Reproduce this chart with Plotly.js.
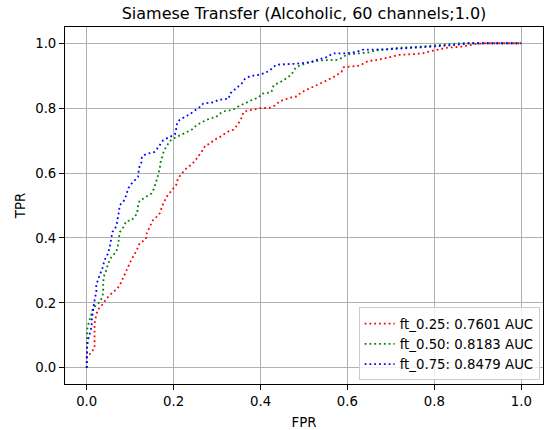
<!DOCTYPE html>
<html>
<head>
<meta charset="utf-8">
<script src="https://cdn.plot.ly/plotly-3.0.1.min.js"></script>
<style>html,body{margin:0;padding:0;background:#fff;}#chart{width:551px;height:430px;}</style>
</head>
<body>
<div id="chart"></div>
<script>
const fpr_25 = [0, 0, 0.007, 0.018, 0.018, 0.018, 0.018, 0.021, 0.025, 0.035, 0.046, 0.058, 0.069, 0.076, 0.083, 0.092, 0.099, 0.106, 0.115, 0.122, 0.136, 0.138, 0.145, 0.152, 0.160, 0.168, 0.176, 0.185, 0.196, 0.206, 0.210, 0.218, 0.229, 0.239, 0.249, 0.256, 0.264, 0.273, 0.283, 0.292, 0.304, 0.315, 0.327, 0.338, 0.348, 0.356, 0.361, 0.371, 0.383, 0.398, 0.421, 0.433, 0.444, 0.467, 0.483, 0.494, 0.521, 0.544, 0.567, 0.586, 0.591, 0.628, 0.647, 0.670, 0.697, 0.719, 0.750, 0.773, 0.800, 0.828, 0.860, 0.897, 0.92, 1.0];
const tpr_25 = [0, 0.035, 0.042, 0.061, 0.085, 0.110, 0.137, 0.156, 0.178, 0.193, 0.214, 0.230, 0.242, 0.254, 0.276, 0.301, 0.322, 0.341, 0.362, 0.384, 0.396, 0.414, 0.433, 0.454, 0.464, 0.476, 0.506, 0.529, 0.547, 0.564, 0.583, 0.598, 0.614, 0.624, 0.637, 0.649, 0.665, 0.685, 0.690, 0.701, 0.709, 0.719, 0.729, 0.734, 0.750, 0.770, 0.788, 0.793, 0.795, 0.800, 0.801, 0.808, 0.821, 0.832, 0.836, 0.849, 0.865, 0.880, 0.895, 0.911, 0.926, 0.931, 0.945, 0.949, 0.957, 0.964, 0.966, 0.969, 0.978, 0.986, 0.989, 0.998, 1.0, 1.0];

const fpr_50 = [0, 0, 0.001, 0.003, 0.007, 0.011, 0.014, 0.022, 0.030, 0.036, 0.038, 0.038, 0.039, 0.045, 0.049, 0.057, 0.068, 0.072, 0.074, 0.076, 0.084, 0.091, 0.103, 0.110, 0.116, 0.118, 0.122, 0.130, 0.141, 0.149, 0.155, 0.160, 0.164, 0.168, 0.170, 0.174, 0.178, 0.185, 0.191, 0.199, 0.210, 0.222, 0.233, 0.242, 0.252, 0.264, 0.273, 0.287, 0.297, 0.306, 0.318, 0.329, 0.341, 0.352, 0.364, 0.375, 0.387, 0.397, 0.402, 0.425, 0.430, 0.452, 0.471, 0.479, 0.486, 0.509, 0.536, 0.578, 0.590, 0.598, 0.628, 0.651, 0.663, 0.693, 0.719, 0.774, 0.824, 0.86, 1.0];
const tpr_50 = [0, 0.10, 0.116, 0.131, 0.147, 0.167, 0.183, 0.193, 0.203, 0.218, 0.234, 0.260, 0.280, 0.301, 0.321, 0.342, 0.357, 0.378, 0.398, 0.418, 0.432, 0.452, 0.454, 0.465, 0.475, 0.501, 0.516, 0.521, 0.531, 0.537, 0.552, 0.572, 0.593, 0.614, 0.634, 0.651, 0.670, 0.685, 0.698, 0.706, 0.713, 0.721, 0.726, 0.734, 0.747, 0.757, 0.762, 0.770, 0.772, 0.783, 0.791, 0.793, 0.798, 0.808, 0.814, 0.822, 0.829, 0.834, 0.844, 0.849, 0.870, 0.885, 0.903, 0.921, 0.929, 0.940, 0.947, 0.949, 0.957, 0.965, 0.969, 0.972, 0.977, 0.983, 0.986, 0.990, 0.996, 1.0, 1.0];

const fpr_75 = [0, 0, 0.001, 0.003, 0.007, 0.011, 0.012, 0.014, 0.018, 0.022, 0.022, 0.026, 0.030, 0.036, 0.041, 0.049, 0.053, 0.057, 0.059, 0.068, 0.072, 0.074, 0.076, 0.084, 0.091, 0.095, 0.103, 0.110, 0.118, 0.120, 0.126, 0.127, 0.136, 0.147, 0.156, 0.162, 0.168, 0.176, 0.183, 0.195, 0.203, 0.206, 0.208, 0.214, 0.226, 0.239, 0.249, 0.260, 0.268, 0.279, 0.291, 0.304, 0.327, 0.329, 0.338, 0.348, 0.356, 0.364, 0.375, 0.387, 0.397, 0.410, 0.421, 0.429, 0.437, 0.483, 0.517, 0.525, 0.536, 0.552, 0.567, 0.601, 0.621, 0.636, 0.690, 0.719, 0.760, 0.800, 0.850, 0.880, 1.0];
const tpr_75 = [0, 0.039, 0.065, 0.085, 0.106, 0.126, 0.152, 0.178, 0.208, 0.234, 0.254, 0.272, 0.285, 0.306, 0.332, 0.352, 0.372, 0.403, 0.418, 0.436, 0.460, 0.480, 0.501, 0.511, 0.531, 0.552, 0.567, 0.578, 0.588, 0.614, 0.634, 0.651, 0.658, 0.662, 0.665, 0.675, 0.688, 0.701, 0.706, 0.713, 0.719, 0.737, 0.754, 0.764, 0.772, 0.783, 0.793, 0.803, 0.814, 0.815, 0.818, 0.826, 0.829, 0.844, 0.854, 0.865, 0.875, 0.890, 0.898, 0.901, 0.903, 0.908, 0.916, 0.926, 0.934, 0.937, 0.942, 0.947, 0.952, 0.957, 0.969, 0.969, 0.974, 0.980, 0.981, 0.983, 0.986, 0.990, 0.995, 1.0, 1.0];

const seriesNames = ["ft_0.25: 0.7601 AUC", "ft_0.50: 0.8183 AUC", "ft_0.75: 0.8479 AUC"];
const seriesColors = ["#ff0000", "#008000", "#0000ff"];
const tickValues = [0, 0.2, 0.4, 0.6, 0.8, 1.0];
const tickLabels = ["0.0", "0.2", "0.4", "0.6", "0.8", "1.0"];
const chartTitle = "Siamese Transfer (Alcoholic, 60 channels;1.0)";

const xs = [fpr_25, fpr_50, fpr_75];
const ys = [tpr_25, tpr_50, tpr_75];

const FONT = "DejaVu Sans, Liberation Sans, sans-serif";
const FS = 13.3;

const traces = xs.map((x, i) => ({
  type: "scatter",
  mode: "lines",
  x: x,
  y: ys[i],
  name: seriesNames[i],
  line: { color: seriesColors[i], width: 1.8, dash: "1.8px,3px" },
  hoverinfo: "skip"
}));

const axisCommon = {
  range: [-0.05, 1.05],
  tickmode: "array",
  tickvals: tickValues,
  ticktext: tickLabels,
  showgrid: true,
  gridcolor: "#b0b0b0",
  gridwidth: 1,
  zeroline: false,
  showline: true,
  linecolor: "#000000",
  linewidth: 1,
  mirror: true,
  ticks: "outside",
  ticklen: 5,
  tickwidth: 1,
  tickcolor: "#000000",
  tickfont: { family: FONT, size: FS, color: "#000000" },
  automargin: false,
  fixedrange: true
};

const layout = {
  width: 551,
  height: 430,
  margin: { l: 65, r: 8, t: 27, b: 46, pad: 0 },
  paper_bgcolor: "#ffffff",
  plot_bgcolor: "#ffffff",
  font: { family: FONT, size: FS, color: "#000000" },
  title: {
    text: chartTitle,
    font: { family: FONT, size: 16, color: "#000000" },
    x: 0.5, xref: "paper", xanchor: "center",
    y: 1 - 13 / 430, yref: "container", yanchor: "middle"
  },
  xaxis: Object.assign({}, axisCommon, {
    title: { text: "FPR", font: { family: FONT, size: FS, color: "#000000" }, standoff: 9 }
  }),
  yaxis: Object.assign({}, axisCommon, {
    title: { text: "TPR", font: { family: FONT, size: FS, color: "#000000" }, standoff: 6 }
  }),
  showlegend: true,
  legend: {
    x: 0.993, xanchor: "right",
    y: 0.01, yanchor: "bottom",
    bgcolor: "rgba(255,255,255,0.8)",
    bordercolor: "#cccccc",
    borderwidth: 1,
    font: { family: FONT, size: FS, color: "#000000" },
    traceorder: "normal"
  }
};

Plotly.newPlot("chart", traces, layout, { staticPlot: true, displayModeBar: false });
</script>
</body>
</html>
